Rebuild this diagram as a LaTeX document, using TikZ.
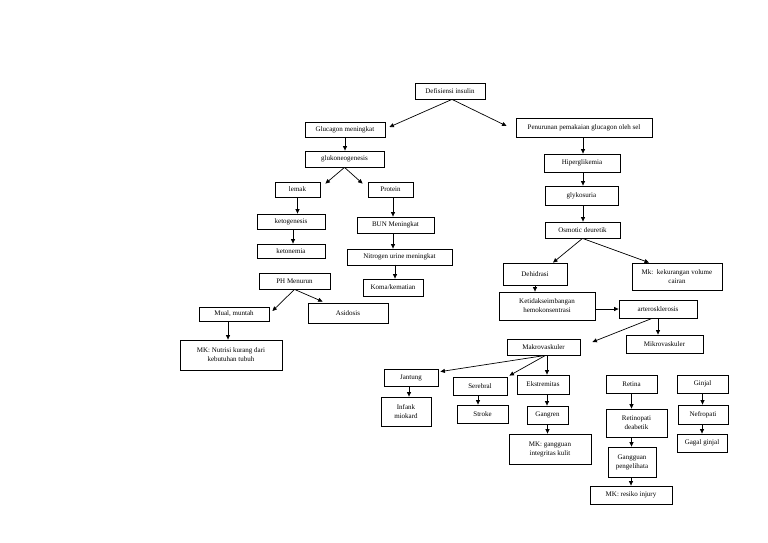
\documentclass[tikz,border=0pt]{standalone}
\usepackage{fontspec}
\setmainfont{Liberation Serif}
\usetikzlibrary{arrows.meta,calc}
\begin{document}
\begin{tikzpicture}[x=1pt,y=-1pt,
 box/.style={draw=black, line width=0.8pt, align=center, inner sep=1pt, font=\fontsize{7}{9}\selectfont},
 arr/.style={draw=black, line width=0.7pt, -{Triangle[length=4.5pt,width=4pt]}}]
\useasboundingbox (0,0) rectangle (768,543);
\fill[white] (0,0) rectangle (768,543);
% left branch
\node[box, minimum width=70pt, minimum height=16pt] (def) at (450,91) {Defisiensi insulin};
\node[box, minimum width=80pt, minimum height=15pt] (gluc) at (345,129.5) {Glucagon meningkat};
\node[box, minimum width=136pt, minimum height=19pt] (pen) at (584,127.5) {Penurunan pemakaian glucagon oleh sel};
\node[box, minimum width=79pt, minimum height=16pt] (gluk) at (344.5,159) {glukoneogenesis};
\node[box, minimum width=45pt, minimum height=15pt] (lemak) at (297.5,189.5) {lemak};
\node[box, minimum width=45pt, minimum height=15pt] (prot) at (390.5,189.5) {Protein};
\node[box, minimum width=68pt, minimum height=15pt] (keto) at (291,221.5) {ketogenesis};
\node[box, minimum width=77pt, minimum height=16pt] (bun) at (395.5,225) {BUN Meningkat};
\node[box, minimum width=68pt, minimum height=14pt] (ketonem) at (291,251) {ketonemia};
\node[box, minimum width=105pt, minimum height=16pt] (nitro) at (399.5,257) {Nitrogen urine meningkat};
\node[box, minimum width=71pt, minimum height=16pt] (ph) at (294.5,281) {PH Menurun};
\node[box, minimum width=60pt, minimum height=17pt] (koma) at (393,287.5) {Koma/kematian};
\node[box, minimum width=70pt, minimum height=14pt] (mual) at (234,314) {Mual, muntah};
\node[box, minimum width=80pt, minimum height=20pt] (asid) at (348,313) {Asidosis};
\node[box, minimum width=102pt, minimum height=30pt] (mkn) at (231,355) {MK: Nutrisi kurang dari\\kebutuhan tubuh};
% right branch
\node[box, minimum width=76pt, minimum height=18pt] (hiper) at (582,163) {Hiperglikemia};
\node[box, minimum width=73pt, minimum height=19pt] (glyk) at (581.5,195.5) {glykosuria};
\node[box, minimum width=75pt, minimum height=16pt] (osm) at (582.5,230) {Osmotic deuretik};
\node[box, minimum width=64pt, minimum height=22pt] (dehi) at (535,274) {Dehidrasi};
\node[box, minimum width=90pt, minimum height=27pt] (mkv) at (677,276.5) {Mk:\ \ kekurangan volume\\cairan};
\node[box, minimum width=96pt, minimum height=28pt] (ketid) at (547,306) {Ketidakseimbangan\\hemokonsentrasi};
\node[box, minimum width=78pt, minimum height=18pt] (arter) at (658,309) {arterosklerosis};
\node[box, minimum width=77pt, minimum height=18pt] (mikro) at (664.5,344) {Mikrovaskuler};
\node[box, minimum width=73pt, minimum height=16pt] (makro) at (543.5,347) {Makrovaskuler};
\node[box, minimum width=54pt, minimum height=17pt] (jant) at (411,377.5) {Jantung};
\node[box, minimum width=54pt, minimum height=18pt] (sereb) at (480,386) {Serebral};
\node[box, minimum width=52pt, minimum height=19pt] (ekst) at (543,384.5) {Ekstremitas};
\node[box, minimum width=50pt, minimum height=29pt] (infank) at (406,411.5) {Infank\\miokard};
\node[box, minimum width=51pt, minimum height=18pt] (stroke) at (482.5,414) {Stroke};
\node[box, minimum width=41pt, minimum height=18pt] (gang) at (547.5,415) {Gangren};
\node[box, minimum width=82pt, minimum height=30pt] (mkg) at (550,449) {MK: gangguan\\integritas kulit};
\node[box, minimum width=51pt, minimum height=18pt] (ret) at (631.5,384) {Retina};
\node[box, minimum width=51pt, minimum height=18pt] (ginj) at (702.5,384) {Ginjal};
\node[box, minimum width=61pt, minimum height=28pt] (retino) at (636.5,423) {Retinopati\\deabetik};
\node[box, minimum width=50pt, minimum height=19pt] (nef) at (703,414.5) {Nefropati};
\node[box, minimum width=50pt, minimum height=18pt] (gagal) at (702,443) {Gagal ginjal};
\node[box, minimum width=48pt, minimum height=30pt] (ggn) at (632,462) {Gangguan\\pengelihata};
\node[box, minimum width=82pt, minimum height=18pt] (mkr) at (631,495) {MK: resiko injury};
% connectors
\draw[arr] ($(def.south)+(2,0)$) -- ($(gluc.east)+(4,-2.5)$);
\draw[arr] ($(def.south)+(2,0)$) -- ($(pen.west)+(-9,-1.5)$);
\draw[arr] (gluc.south) -- (gluc.south |- gluk.north);
\draw[arr] (gluk.south) -- ($(lemak.north east)+(5,2)$);
\draw[arr] (gluk.south) -- ($(prot.north west)+(-5,2)$);
\draw[arr] (lemak.south) -- (lemak.south |- keto.north);
\draw[arr] ($(prot.south)+(2.5,0)$) -- ($(prot.south |- bun.north)+(2.5,0)$);
\draw[arr] ($(keto.south)+(2,0)$) -- ($(keto.south |- ketonem.north)+(2,0)$);
\draw[arr] ($(bun.south)+(-2.5,0)$) -- ($(bun.south |- nitro.north)+(-2.5,0)$);
\draw[arr] ($(koma.north)+(2,-14)$) -- ($(koma.north)+(2,0)$);
\draw[arr] (ph.south) -- ($(mual.east)+(3,-3)$);
\draw[arr] (ph.south) -- ($(asid.north west)+(15,-1)$);
\draw[arr] ($(mual.south)+(-6,0)$) -- ($(mual.south |- mkn.north)+(-6,0)$);
\draw[arr] ($(pen.south)+(-1,0)$) -- ($(pen.south |- hiper.north)+(-1,0)$);
\draw[arr] ($(hiper.south)+(1,0)$) -- ($(hiper.south |- glyk.north)+(1,0)$);
\draw[arr] ($(glyk.south)+(1.5,0)$) -- ($(glyk.south |- osm.north)+(1.5,0)$);
\draw[arr] (osm.south) -- ($(dehi.north)+(18,0)$);
\draw[arr] (osm.south) -- ($(mkv.north)+(-28,0)$);
\draw[arr] (dehi.south) -- (dehi.south |- ketid.north);
\draw[arr] (ketid.east |- arter.west) -- (arter.west);
\draw[arr] (arter.south) -- (arter.south |- mikro.north);
\draw[arr] ($(arter.south)+(-6,0)$) -- ($(makro.east)+(12,-5)$);
\draw[arr] ($(makro.south)+(2,0)$) -- ($(jant.north east)+(2,3)$);
\draw[arr] ($(makro.south)+(2,0)$) -- ($(sereb.north east)+(2,-1)$);
\draw[arr] ($(makro.south)+(3.5,0)$) -- ($(ekst.north)+(4,0)$);
\draw[arr] ($(jant.south)+(-2,0)$) -- ($(jant.south |- infank.north)+(-2,0)$);
\draw[arr] ($(sereb.south)+(-2,0)$) -- ($(sereb.south |- stroke.north)+(-2,0)$);
\draw[arr] ($(ekst.south)+(4,0)$) -- ($(ekst.south |- gang.north)+(4,0)$);
\draw[arr] (gang.south) -- (gang.south |- mkg.north);
\draw[arr] (ret.south) -- (ret.south |- retino.north);
\draw[arr] ($(retino.south)+(-5,0)$) -- ($(retino.south |- ggn.north)+(-5,0)$);
\draw[arr] ($(ggn.south)+(-1,0)$) -- ($(ggn.south |- mkr.north)+(-1,0)$);
\draw[arr] (ginj.south) -- (ginj.south |- nef.north);
\draw[arr] ($(nef.south)+(-1,0)$) -- ($(nef.south |- gagal.north)+(-1,0)$);
\end{tikzpicture}
\end{document}
